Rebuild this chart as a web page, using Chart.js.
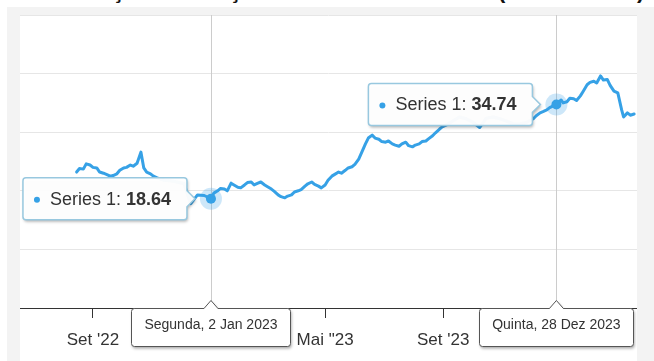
<!DOCTYPE html>
<html>
<head>
<meta charset="utf-8">
<script src="https://cdn.jsdelivr.net/npm/chart.js@4.4.1/dist/chart.umd.min.js"></script>
<style>
  html, body { margin: 0; padding: 0; background: #fff; }
  body { width: 654px; height: 361px; overflow: hidden; position: relative; font-family: 'Liberation Sans', Arial, sans-serif; }
  #frame { position: absolute; left: 7px; top: 7px; right: 0; bottom: 0; background: #f3f3f3; }
  #paper { position: absolute; left: 20px; top: 15px; width: 617px; bottom: 0; background: #fff; }
  #c { position: absolute; left: 20px; top: 14px; }
  .tt { position: absolute; top: -22px; font: bold 22px/26px 'Liberation Sans', Arial, sans-serif; color: #111; }
</style>
</head>
<body>
<div id="frame"></div>
<div id="paper"></div>
<!-- what is left of the cropped title -->
<span class="tt" style="left:112px">ç</span>
<span class="tt" style="left:229px">ç</span>
<span class="tt" style="left:498px">(</span>
<span class="tt" style="left:637px">)</span>
<canvas id="c" width="617" height="347"></canvas>
<script>
const seriesName = 'Series 1';

const dates = [
  '2022-08-15','2022-08-18','2022-08-22','2022-08-25','2022-08-29','2022-09-01','2022-09-05',
  '2022-09-08','2022-09-12','2022-09-15','2022-09-19','2022-09-22','2022-09-26','2022-09-29',
  '2022-10-03','2022-10-06','2022-10-10','2022-10-13','2022-10-17','2022-10-21','2022-10-24',
  '2022-10-27','2022-10-31','2022-11-03','2022-11-07','2022-11-14','2022-11-21','2022-11-28',
  '2022-12-05','2022-12-12','2022-12-19','2022-12-26',
  '2023-01-02','2023-01-05','2023-01-09','2023-01-12','2023-01-16','2023-01-19','2023-01-23',
  '2023-01-26','2023-01-30','2023-02-02','2023-02-06','2023-02-09','2023-02-13','2023-02-16',
  '2023-02-20','2023-02-23','2023-02-27','2023-03-02','2023-03-06','2023-03-09','2023-03-13',
  '2023-03-16','2023-03-20','2023-03-23','2023-03-27','2023-03-30','2023-04-03','2023-04-06',
  '2023-04-10','2023-04-13','2023-04-17','2023-04-20','2023-04-24','2023-04-27','2023-05-01',
  '2023-05-04','2023-05-08','2023-05-11','2023-05-15','2023-05-18','2023-05-22','2023-05-25',
  '2023-05-29','2023-06-01','2023-06-05','2023-06-08','2023-06-12','2023-06-15','2023-06-19',
  '2023-06-22','2023-06-26','2023-06-29','2023-07-03','2023-07-06','2023-07-10','2023-07-13',
  '2023-07-17','2023-07-20','2023-07-24','2023-07-27','2023-07-31','2023-08-03','2023-08-07',
  '2023-08-10','2023-08-14','2023-08-17','2023-08-21','2023-08-24','2023-08-28','2023-08-31',
  '2023-09-04','2023-09-11','2023-09-18','2023-09-25','2023-10-02','2023-10-09','2023-10-16',
  '2023-10-23','2023-10-30','2023-11-06','2023-11-13','2023-11-20','2023-11-27','2023-12-04',
  '2023-12-07','2023-12-11','2023-12-14','2023-12-18','2023-12-21','2023-12-28',
  '2024-01-02','2024-01-04','2024-01-08','2024-01-11','2024-01-15','2024-01-18','2024-01-22',
  '2024-01-25','2024-01-29','2024-02-01','2024-02-05','2024-02-08','2024-02-12','2024-02-15',
  '2024-02-19','2024-02-22','2024-02-26','2024-03-01','2024-03-05','2024-03-07','2024-03-11',
  '2024-03-14','2024-03-18'
];
const values = [
  23.2, 23.8, 23.7, 24.6, 24.4, 24.0, 23.9,
  23.2, 23.0, 22.8, 22.5, 22.6, 22.9, 23.5,
  23.9, 24.0, 24.4, 24.2, 24.7, 26.6, 23.9,
  23.2, 22.9, 22.5, 22.2, 21.8, 21.7, 21.5,
  21.2, 17.8, 19.3, 19.2,
  18.64, 19.6, 20.0, 20.4, 20.3, 20.0, 21.3,
  21.0, 20.6, 20.5, 21.0, 21.4, 21.5, 21.0,
  21.3, 21.5, 21.0, 20.7, 20.3, 19.9, 19.3,
  19.0, 18.8, 19.1, 19.3, 19.8, 20.0, 20.2,
  20.8, 21.2, 21.5, 21.1, 20.8, 20.5, 21.0,
  21.8, 22.5, 22.8, 23.2, 23.0, 23.5, 23.9,
  24.1, 24.5, 25.4, 26.5, 28.0, 29.0, 29.5,
  29.0, 28.8, 28.4, 28.3, 28.5, 28.0, 27.8,
  27.6, 28.0, 28.3, 27.7, 27.5, 27.8, 28.0,
  28.4, 28.5, 28.9, 29.4, 29.9, 30.5, 30.9,
  31.2, 31.9, 32.6, 32.3, 31.7, 30.8, 32.4,
  32.6, 32.3, 31.9, 31.4, 31.4, 31.7, 32.3,
  32.8, 33.3, 33.5, 33.8, 34.2, 34.74,
  35.5, 35.0, 35.2, 35.8, 35.7, 35.4, 36.2,
  37.0, 38.1, 38.5, 38.7, 38.4, 39.6, 38.9,
  39.0, 38.0, 37.0, 36.7, 33.8, 32.6, 33.3,
  32.9, 33.1
];

const tickDates = ['2022-09-01', '2023-01-01', '2023-05-01', '2023-09-01', '2024-01-01'];
const tickLabels = ["Set '22", "Jan '23", 'Mai "23', "Set '23", "Jan '24"];

// the two hovered points and their crosshair labels
const hoverDates = ['2023-01-02', '2023-12-28'];
const hoverDayLabels = ['Segunda, 2 Jan 2023', 'Quinta, 28 Dez 2023'];

const xMin = '2022-06-17';
const xMax = '2024-03-21';

const blue = '#36a1e6';
const font = "'Liberation Sans', Arial, sans-serif";
const day = s => Date.parse(s + 'T00:00:00Z') / 864e5;

const callouts = {
  id: 'callouts',
  beforeDatasetsDraw(chart) {
    const { ctx, chartArea, scales } = chart;
    ctx.save();
    ctx.strokeStyle = '#cccccc';
    ctx.lineWidth = 1;
    hoverDates.forEach(d => {
      const px = Math.round(scales.x.getPixelForValue(day(d))) + 0.5;
      ctx.beginPath();
      ctx.moveTo(px, chartArea.top);
      ctx.lineTo(px, chartArea.bottom);
      ctx.stroke();
    });
    ctx.restore();
  },
  afterDraw(chart) {
    const { ctx, chartArea, scales } = chart;
    hoverDates.forEach((d, i) => {
      const idx = dates.indexOf(d);
      const px = scales.x.getPixelForValue(day(d));
      const py = scales.y.getPixelForValue(values[idx]);

      // halo + marker
      ctx.save();
      ctx.fillStyle = 'rgba(54,161,230,0.25)';
      ctx.beginPath(); ctx.arc(px, py, 11, 0, Math.PI * 2); ctx.fill();
      ctx.fillStyle = blue;
      ctx.beginPath(); ctx.arc(px, py, 5, 0, Math.PI * 2); ctx.fill();
      ctx.restore();

      // tooltip box left of the point
      const w = 164, h = 42;
      const right = px - 24, left = right - w, top = py - h / 2;
      ctx.save();
      ctx.beginPath();
      ctx.moveTo(left + 3, top);
      ctx.lineTo(right - 3, top);
      ctx.arcTo(right, top, right, top + 3, 3);
      ctx.lineTo(right, py - 8);
      ctx.lineTo(right + 8, py);
      ctx.lineTo(right, py + 8);
      ctx.lineTo(right, top + h - 3);
      ctx.arcTo(right, top + h, right - 3, top + h, 3);
      ctx.lineTo(left + 3, top + h);
      ctx.arcTo(left, top + h, left, top + h - 3, 3);
      ctx.lineTo(left, top + 3);
      ctx.arcTo(left, top, left + 3, top, 3);
      ctx.closePath();
      ctx.shadowColor = 'rgba(0,0,0,0.3)';
      ctx.shadowBlur = 3;
      ctx.shadowOffsetX = 1;
      ctx.shadowOffsetY = 2;
      ctx.fillStyle = 'rgba(255,255,255,0.97)';
      ctx.fill();
      ctx.shadowColor = 'transparent';
      ctx.strokeStyle = '#98c8df';
      ctx.lineWidth = 1.5;
      ctx.stroke();

      ctx.fillStyle = blue;
      ctx.beginPath(); ctx.arc(left + 14, py + 1, 3, 0, Math.PI * 2); ctx.fill();
      ctx.textBaseline = 'middle';
      ctx.fillStyle = '#333';
      ctx.font = '18px ' + font;
      const lab = seriesName + ': ';
      ctx.fillText(lab, left + 27, py + 1);
      const lw = ctx.measureText(lab).width;
      ctx.font = 'bold 18px ' + font;
      ctx.fillText(values[idx].toFixed(2), left + 27 + lw, py + 1);
      ctx.restore();

      // crosshair label under the axis
      ctx.save();
      ctx.font = '14px ' + font;
      const txt = hoverDayLabels[i];
      const bw = Math.round(ctx.measureText(txt).width + 26), bh = 38;
      const bx = Math.round(px - bw / 2) + 0.5, by = Math.round(chartArea.bottom) + 0.5;
      ctx.beginPath();
      ctx.moveTo(bx + 3, by);
      ctx.lineTo(px - 7, by);
      ctx.lineTo(px, by - 8);
      ctx.lineTo(px + 7, by);
      ctx.lineTo(bx + bw - 3, by);
      ctx.arcTo(bx + bw, by, bx + bw, by + 3, 3);
      ctx.lineTo(bx + bw, by + bh - 3);
      ctx.arcTo(bx + bw, by + bh, bx + bw - 3, by + bh, 3);
      ctx.lineTo(bx + 3, by + bh);
      ctx.arcTo(bx, by + bh, bx, by + bh - 3, 3);
      ctx.lineTo(bx, by + 3);
      ctx.arcTo(bx, by, bx + 3, by, 3);
      ctx.closePath();
      ctx.shadowColor = 'rgba(0,0,0,0.35)';
      ctx.shadowBlur = 3;
      ctx.shadowOffsetX = 1;
      ctx.shadowOffsetY = 2;
      ctx.fillStyle = '#fff';
      ctx.fill();
      ctx.shadowColor = 'transparent';
      ctx.strokeStyle = '#555';
      ctx.lineWidth = 1;
      ctx.stroke();
      ctx.fillStyle = '#333';
      ctx.textAlign = 'center';
      ctx.textBaseline = 'middle';
      ctx.fillText(txt, px, by + 17);
      ctx.restore();
    });
  }
};

new Chart(document.getElementById('c'), {
  type: 'line',
  data: {
    datasets: [{
      label: seriesName,
      data: dates.map((d, i) => ({ x: day(d), y: values[i] })),
      borderColor: blue,
      borderWidth: 3,
      borderJoinStyle: 'round',
      borderCapStyle: 'round',
      pointRadius: 0,
      tension: 0,
      fill: false
    }]
  },
  options: {
    responsive: false,
    animation: false,
    devicePixelRatio: 1,
    layout: { padding: { top: 1, left: 0, right: 0, bottom: 0 } },
    plugins: { legend: { display: false }, tooltip: { enabled: false } },
    scales: {
      x: {
        type: 'linear',
        min: day(xMin),
        max: day(xMax),
        afterBuildTicks: s => { s.ticks = tickDates.map(d => ({ value: day(d) })); },
        afterFit: s => { s.height = 53; },
        ticks: {
          autoSkip: false,
          maxRotation: 0,
          padding: 12,
          color: '#333',
          font: { family: font, size: 17 },
          callback: (v, i) => tickLabels[i]
        },
        grid: { drawOnChartArea: false, drawTicks: true, tickLength: 10, color: '#333' },
        border: { color: '#333', width: 1 }
      },
      y: {
        min: 0,
        max: 50,
        ticks: { display: false, stepSize: 10 },
        grid: { color: '#e6e6e6', drawTicks: false },
        border: { display: false },
        afterFit: s => { s.width = 0; }
      }
    }
  },
  plugins: [callouts]
});
</script>
</body>
</html>
